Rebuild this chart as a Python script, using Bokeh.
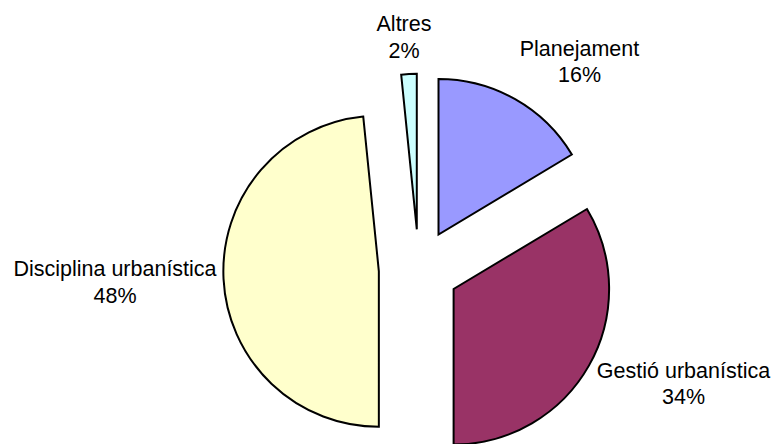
import math
from bokeh.plotting import figure
from bokeh.models import Range1d, ColumnDataSource
from bokeh.core.properties import value
from bokeh.embed import file_html
from bokeh.resources import INLINE

# ---- data ----
categories = ["Planejament", "Gestió urbanística", "Disciplina urbanística", "Altres"]
shares = [16.4, 33.6, 48.4, 1.6]
colors = ["#9999FF", "#993366", "#FFFFCC", "#CCFFFF"]

# ---- layout (page pixels) ----
W, H = 776, 444
CENTER = (418.3, 268.8)      # pie centre, page px
RADIUS = 155.5
EXPLODE = 40.0
# label centre x and first-line baseline y (page px)
LABEL_POS = [(579, 55.5), (683, 377.5), (114.5, 275.7), (403.5, 30.7)]
LINE_GAP = 26.3
TEXT_SHIFT = 7               # compensation for baseline placement
FONT = "Liberation Sans"
FONT_SIZE = "21.5px"

def py(y):  # page y -> data y
    return H - y

total = sum(shares)
cx, cy = CENTER[0], py(CENTER[1])

xs, ys, starts, ends = [], [], [], []
cum = 0.0
for s in shares:
    a0 = math.pi / 2 - cum / total * 2 * math.pi
    cum += s
    a1 = math.pi / 2 - cum / total * 2 * math.pi
    mid = (a0 + a1) / 2
    xs.append(cx + EXPLODE * math.cos(mid))
    ys.append(cy + EXPLODE * math.sin(mid))
    starts.append(a0)
    ends.append(a1)

src = ColumnDataSource(dict(x=xs, y=ys, start=starts, end=ends, color=colors))

p = figure(width=W, height=H, output_backend="svg", toolbar_location=None,
           x_range=Range1d(0, W), y_range=Range1d(0, H),
           min_border=0, outline_line_color=None)
p.axis.visible = False
p.grid.visible = False
p.background_fill_color = "white"
p.border_fill_color = "white"

p.wedge(x="x", y="y", radius=RADIUS, start_angle="start", end_angle="end",
        direction="clock", fill_color="color", line_color="black", line_width=2,
        line_join="miter", source=src)

pct = [f"{round(s / total * 100)}%" for s in shares]
lx = [pos[0] for pos in LABEL_POS]
ly1 = [py(pos[1] - TEXT_SHIFT) for pos in LABEL_POS]
ly2 = [py(pos[1] + LINE_GAP - TEXT_SHIFT) for pos in LABEL_POS]

p.text(x=lx, y=ly1, text=categories, text_align="center", text_baseline="alphabetic",
       text_font=value(FONT), text_font_size=FONT_SIZE, text_color="black")
p.text(x=lx, y=ly2, text=pct, text_align="center", text_baseline="alphabetic",
       text_font=value(FONT), text_font_size=FONT_SIZE, text_color="black")

open("out.html", "w").write(file_html(p, INLINE))
